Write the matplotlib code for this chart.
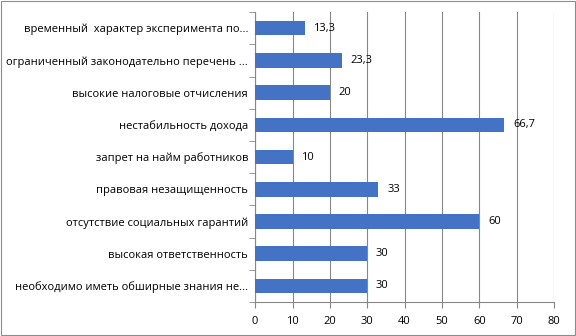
import matplotlib.pyplot as plt
import numpy as np

plt.rcParams.update({
    "font.family": ["Open Sans", "DejaVu Sans"],
    "font.size": 8,
})

categories = [
    "временный  характер эксперимента по...",
    "ограниченный законодательно перечень ...",
    "высокие налоговые отчисления",
    "нестабильность дохода",
    "запрет на найм работников",
    "правовая незащищенность",
    "отсутствие социальных гарантий",
    "высокая ответственность",
    "необходимо иметь обширные знания не...",
]
values = [13.3, 23.3, 20, 66.7, 10, 33, 60, 30, 30]
x_ticks = [0, 10, 20, 30, 40, 50, 60, 70, 80]

bar_color = "#4472C4"
grid_color = "#878787"

fig = plt.figure(figsize=(5.76, 3.36), dpi=100)
ax = fig.add_axes([0.443, 0.101, 0.519, 0.863])

y = np.arange(len(categories))
ax.barh(y, values, height=0.45, color=bar_color, zorder=3)

for yi, v in zip(y, values):
    txt = f"{v:g}".replace(".", ",")
    ax.text(v + 2.3, yi, txt, va="center", ha="left", color="#000000")

ax.set_yticks(y)
ax.set_yticklabels(categories)
ax.set_ylim(len(categories) - 0.5, -0.5)
ax.set_xlim(0, 80)
ax.set_xticks(x_ticks)

# category separators on the left spine
ax.set_yticks(np.arange(-0.5, len(categories) + 0.5, 1), minor=True)
ax.tick_params(axis="y", which="major", length=0, pad=5)
ax.tick_params(axis="y", which="minor", length=4, color=grid_color, direction="out")
ax.tick_params(axis="x", length=4, color=grid_color, pad=6)

ax.grid(axis="x", color=grid_color, linewidth=0.8, zorder=0)
for side in ["top", "right"]:
    ax.spines[side].set_visible(False)
for side in ["left", "bottom"]:
    ax.spines[side].set_color(grid_color)
    ax.spines[side].set_linewidth(0.8)

# outer border of the chart area
fig.patches.append(plt.Rectangle((0.002, 0.003), 0.996, 0.994, transform=fig.transFigure,
                                 fill=False, edgecolor="#8c8c8c", linewidth=0.8))

fig.savefig("out.png", dpi=100)
